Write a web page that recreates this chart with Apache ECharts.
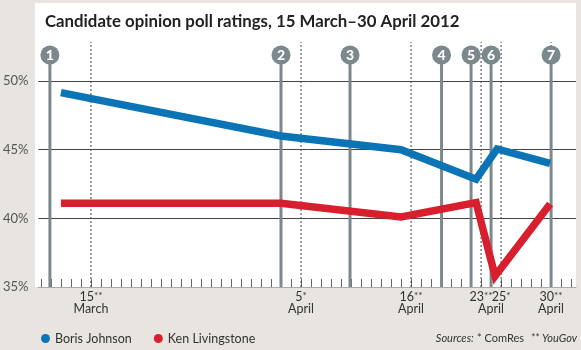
<!DOCTYPE html>
<html>
<head>
<meta charset="utf-8">
<script src="https://cdn.jsdelivr.net/npm/echarts@6/dist/echarts.min.js"></script>
<style>
  html, body { margin: 0; padding: 0; background: #e8e4e0; }
  #chart { width: 581px; height: 350px; }
</style>
</head>
<body>
<div id="chart"></div>
<script>
// x values are days counted from 15 March 2012 (0 = 15 Mar, 17 = 1 Apr, 46 = 30 Apr)
var borisDays = [-3, 19, 31, 38.5, 40.6, 45.9];
var borisVals = [49.15, 46.0, 45.0, 42.85, 45.05, 44.0];
var kenDays = [-3, 19, 31, 38.5, 40.4, 45.9];
var kenVals = [41.1, 41.1, 40.1, 41.15, 35.8, 41.05];

// dated polls (dashed lines) and their labels
var pollDays = [0, 21, 32, 39, 41, 46];
var pollLabels = ['15|**\nMarch', '5|*\nApril', '16|**\nApril', '23|**', '25|*', '30|**\nApril'];
var aprilUnderPair = 40; // "April" centred under 23/25

// numbered event pins
var eventDays = [-4.1, 19, 25.9, 35.05, 38, 40, 46];
var eventNums = ['1', '2', '3', '4', '5', '6', '7'];

var yTicks = [35, 40, 45, 50];
var axisTickDays = [];
for (var d = -5; d <= 48; d++) axisTickDays.push(d);

var BLUE = '#0a74b6';
var RED = '#d81f2d';
var PIN = '#7b898d';
var FONT = 'Lato';

function zip(xs, ys) {
	return xs.map(function (x, i) { return [x, ys[i]]; });
}

var myChart = echarts.init(document.getElementById('chart'));

var labelMap = {};
pollDays.forEach(function (d, i) { labelMap[d] = pollLabels[i]; });
labelMap[aprilUnderPair] = '\nApril';

function fmtLabel(v) {
	var s = labelMap[v];
	if (s === undefined) return '';
	var lines = s.split('\n');
	return lines.map(function (ln) {
		if (ln.indexOf('|') >= 0) {
			var p = ln.split('|');
			return '{a|' + p[0] + '}{s|' + p[1] + '}';
		}
		return '{a|' + ln + '}';
	}).join('\n');
}

var option = {
	backgroundColor: '#e8e4e0',
	animation: false,
	title: {
		text: 'Candidate opinion poll ratings, 15 March\u201330 April 2012',
		left: 40,
		top: 8,
		textStyle: { fontFamily: FONT, fontWeight: 'bold', fontSize: 16.8, color: '#222' }
	},
	graphic: [
		{ type: 'rect', z: -10, shape: { x: 35, y: 3, width: 541, height: 284 }, style: { fill: '#fff' } },
		{
			type: 'text', right: 4, top: 332, z: 10,
			style: {
				text: '{i|Sources:} {n|* ComRes}  {i|** YouGov}',
				rich: {
					i: { fontFamily: FONT, fontStyle: 'italic', fontSize: 11, fill: '#333' },
					n: { fontFamily: FONT, fontSize: 11, fill: '#333' }
				}
			}
		}
	],
	legend: {
		left: 36,
		top: 327,
		icon: 'circle',
		itemWidth: 9,
		itemHeight: 9,
		itemGap: 22,
		textStyle: { fontFamily: FONT, fontSize: 12.5, color: '#333' },
		data: ['Boris Johnson', 'Ken Livingstone']
	},
	grid: { left: 36, right: 5, top: 81, bottom: 63 },
	xAxis: {
		type: 'value',
		min: -5.24,
		max: 48.49,
		splitLine: { show: false },
		axisLine: { show: true, lineStyle: { color: '#aaa', width: 1 } },
		axisTick: { show: true, inside: true, length: 8, customValues: axisTickDays, lineStyle: { color: '#666' } },
		axisLabel: {
			customValues: pollDays.concat([aprilUnderPair]),
			margin: 4,
			formatter: fmtLabel,
			rich: {
				a: { fontFamily: FONT, fontSize: 12.5, color: '#333', lineHeight: 12 },
				s: { fontFamily: FONT, fontSize: 10, color: '#333', verticalAlign: 'top', lineHeight: 12 }
			}
		}
	},
	yAxis: {
		type: 'value',
		min: 35,
		max: 50,
		interval: 5,
		axisLine: { show: false },
		axisTick: { show: false },
		splitLine: { show: true, lineStyle: { color: '#444', width: 1 } },
		axisLabel: {
			margin: 10,
			fontFamily: FONT,
			fontSize: 13,
			color: '#555',
			formatter: function (v) { return yTicks.indexOf(v) >= 0 ? v + '%' : ''; }
		}
	},
	series: [
		{
			name: 'dated polls',
			type: 'custom',
			z: 1,
			silent: true,
			data: pollDays,
			renderItem: function (params, api) {
				var day = api.value(0);
				var bottom = api.coord([day, 35]);
				var top50 = api.coord([day, 50]);
				return {
					type: 'line',
					shape: { x1: bottom[0], y1: bottom[1], x2: bottom[0], y2: top50[1] - 39 },
					style: { stroke: '#444', lineWidth: 1, lineDash: [2, 2] }
				};
			}
		},
		{
			name: 'events',
			type: 'custom',
			z: 1,
			silent: true,
			data: zip(eventDays, eventNums),
			renderItem: function (params, api) {
				var day = api.value(0);
				var bottom = api.coord([day, 35]);
				var top50 = api.coord([day, 50]);
				var cy = top50[1] - 26;
				return {
					type: 'group',
					children: [
						{ type: 'line', shape: { x1: bottom[0], y1: bottom[1], x2: bottom[0], y2: cy }, style: { stroke: PIN, lineWidth: 3 } },
						{ type: 'circle', shape: { cx: bottom[0], cy: cy, r: 9.5 }, style: { fill: PIN } },
						{
							type: 'text',
							style: {
								text: eventNums[params.dataIndex], x: bottom[0], y: cy + 0.5,
								align: 'center', verticalAlign: 'middle',
								fill: '#fff', fontFamily: FONT, fontWeight: 900, fontSize: 14
							}
						}
					]
				};
			}
		},
		{
			name: 'Boris Johnson',
			type: 'line',
			z: 3,
			symbol: 'none',
			itemStyle: { color: BLUE },
			lineStyle: { color: BLUE, width: 7.5, join: 'miter', cap: 'butt' },
			data: zip(borisDays, borisVals)
		},
		{
			name: 'Ken Livingstone',
			type: 'line',
			z: 3,
			symbol: 'none',
			itemStyle: { color: RED },
			lineStyle: { color: RED, width: 7.5, join: 'miter', cap: 'butt' },
			data: zip(kenDays, kenVals)
		}
	]
};

myChart.setOption(option);
</script>
</body>
</html>
